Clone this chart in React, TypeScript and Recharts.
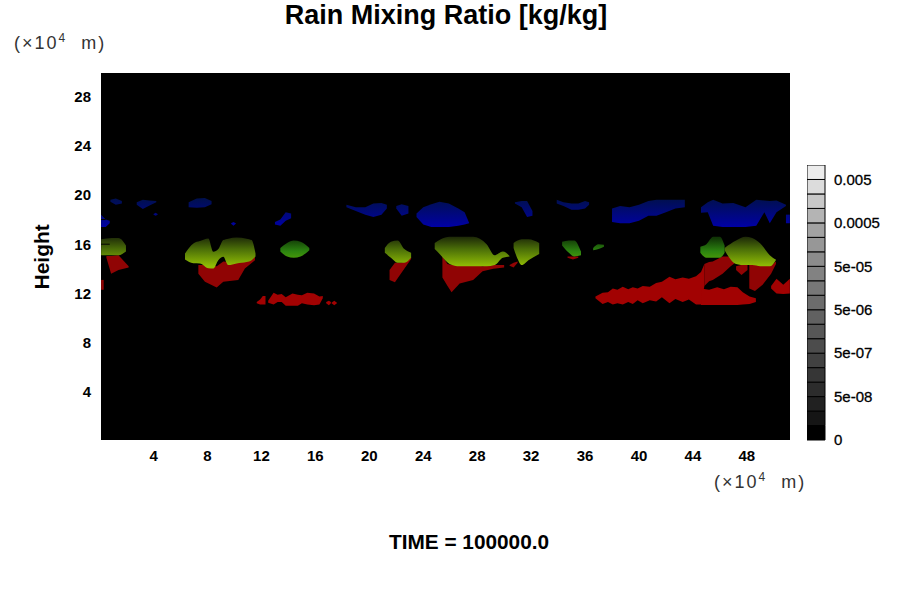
import { Area, Bar, BarChart, CartesianGrid, ComposedChart, ReferenceLine, XAxis, YAxis } from 'recharts'

type Column = [number, number, number]

const X_TICKS = [4, 8, 12, 16, 20, 24, 28, 32, 36, 40, 44, 48]
const Y_TICKS = [4, 8, 12, 16, 20, 24, 28]

// every blob is a list of [x, lowest height, highest height], in units of 10^4 m
const RAIN_DARK: Column[][] = [
  [[0.5, 14.9, 15.05], [0.85, 13.6, 15.05], [1.4, 13.9, 15.1], [2.15, 14.1, 14.2]],
  [[0.11, 12.3, 13.1], [0.3, 12.3, 13.1]],
  [[7.32, 13.6, 14.3], [7.81, 12.95, 14.3], [8.68, 12.49, 14.2], [9.17, 12.95, 14.6], [10.28, 13.09, 14.5], [10.77, 14.03, 14.6], [11.52, 14.7, 15.0]],
  [[21.5, 13.1, 13.9], [21.9, 12.9, 14.5], [22.4, 13.7, 14.5], [23.1, 14.8, 14.95]],
  [[25.42, 13.3, 15.0], [25.8, 12.6, 14.4], [26.1, 12.1, 14.3], [26.7, 12.8, 14.3], [27.7, 13.1, 14.3], [28.4, 13.8, 14.2], [29.2, 14.0, 14.3], [30.0, 14.1, 14.3]],
  [[30.4, 14.25, 14.3], [30.7, 14.1, 14.5], [31.0, 14.5, 14.6]],
  [[34.7, 14.9, 15.0], [35.1, 14.75, 15.0], [35.5, 14.9, 15.0]],
  [[44.85, 12.6, 14.4], [45.2, 13.0, 14.55], [45.47, 13.1, 14.6], [46.2, 13.6, 15.0], [46.8, 14.2, 15.0], [47.07, 14.44, 14.7]],
  [[47.2, 13.9, 14.2], [47.6, 13.5, 14.3], [48.05, 13.9, 14.3]],
  [[48.18, 12.4, 14.3], [48.6, 12.2, 14.3], [49.17, 12.7, 14.3], [49.8, 13.6, 14.3], [50.16, 14.4, 14.6]],
]

const RAIN_BRIGHT: Column[][] = [
  [[11.65, 11.2, 11.3], [11.9, 11.1, 11.5], [12.1, 11.1, 11.8], [12.3, 11.1, 11.8]],
  [[12.5, 11.25, 11.4], [12.9, 11.1, 12.05], [13.2, 11.3, 11.9], [13.5, 11.3, 11.95], [13.8, 11.0, 11.7], [14.3, 11.0, 12.0], [14.7, 11.0, 11.9], [15.0, 11.2, 11.85], [15.4, 11.1, 12.05], [15.9, 11.05, 12.0], [16.3, 11.1, 11.75], [16.55, 11.6, 11.8]],
  [[16.8, 11.2, 11.3], [17.0, 11.05, 11.4], [17.15, 11.2, 11.3]],
  [[17.2, 11.2, 11.25], [17.4, 11.05, 11.4], [17.6, 11.2, 11.25]],
  [[36.77, 11.6, 11.75], [37.3, 11.15, 12.05], [37.7, 11.3, 12.1], [38.06, 11.1, 12.4], [38.4, 11.2, 12.3], [38.8, 11.1, 12.55], [39.2, 11.3, 12.35], [39.54, 11.15, 12.5], [39.9, 11.45, 12.4], [40.28, 11.2, 12.6], [40.8, 11.45, 12.55], [41.27, 11.35, 12.85], [41.7, 11.7, 12.95], [42.26, 11.2, 13.35], [42.7, 11.55, 13.15], [43.24, 11.3, 13.3], [43.7, 11.5, 13.2], [44.23, 11.1, 13.4], [44.6, 11.1, 13.75], [44.85, 12.6, 14.4]],
  [[44.6, 11.06, 12.4], [45.2, 11.06, 12.3], [45.8, 11.06, 12.5], [46.3, 11.06, 12.35], [46.8, 11.06, 12.55], [47.3, 11.06, 12.5], [47.7, 11.1, 12.1], [48.2, 11.15, 11.75], [48.67, 11.3, 11.6]],
  [[49.8, 12.4, 12.6], [50.2, 12.0, 13.2], [50.7, 11.95, 12.7], [51.19, 12.0, 13.2]],
]

const CLOUD_YELLOW: Column[][] = [
  [[0.11, 15.1, 16.4], [0.9, 15.1, 16.5], [1.4, 15.1, 16.5], [1.95, 15.4, 15.9]],
  [[6.33, 14.75, 15.25], [6.95, 14.45, 16.06], [7.44, 14.44, 16.25], [8.06, 14.05, 16.46], [8.43, 14.03, 15.38], [8.8, 14.7, 15.6], [9.17, 14.98, 16.33], [9.54, 14.3, 16.45], [10.16, 14.44, 16.55], [10.9, 14.55, 16.45], [11.27, 14.7, 16.33], [11.56, 15.0, 15.25]],
  [[21.15, 15.3, 15.7], [21.6, 14.9, 16.2], [22.1, 14.5, 16.3], [22.6, 14.5, 15.6], [23.1, 14.9, 15.3]],
  [[24.85, 15.6, 16.1], [25.3, 15.1, 16.4], [25.95, 14.4, 16.6], [26.7, 14.2, 16.6], [27.7, 14.2, 16.6], [28.7, 14.2, 16.0], [29.3, 14.3, 15.1], [29.9, 14.9, 15.4], [30.4, 15.0, 15.05]],
  [[30.7, 15.7, 16.1], [31.0, 14.8, 16.3], [31.3, 14.3, 16.4], [31.8, 14.7, 16.4], [32.6, 15.2, 16.1]],
  [[46.35, 15.5, 15.7], [47.2, 14.4, 16.3], [47.9, 14.3, 16.6], [48.4, 14.3, 16.5], [49.0, 14.2, 16.05], [49.7, 14.2, 15.1], [50.15, 14.7, 14.75]],
]

const CLOUD_GREEN: Column[][] = [
  [[13.4, 15.4, 15.7], [13.9, 15.0, 16.1], [14.4, 14.9, 16.3], [14.9, 15.0, 16.2], [15.55, 15.5, 15.7]],
  [[34.3, 15.9, 16.2], [34.8, 15.3, 16.3], [35.2, 15.0, 16.3], [35.7, 15.1, 15.4]],
  [[36.6, 15.5, 15.7], [37.0, 15.6, 16.0], [37.4, 15.8, 15.95]],
  [[44.55, 15.3, 15.8], [45.0, 14.9, 16.0], [45.5, 14.9, 16.6], [46.0, 14.9, 16.6], [46.35, 15.3, 15.9]],
]

const ICE_BLUE: Column[][] = [
  [[0.8, 19.45, 19.6], [1.2, 19.2, 19.7], [1.65, 19.3, 19.5]],
  [[2.75, 19.2, 19.4], [3.2, 18.85, 19.6], [3.7, 19.15, 19.55], [4.2, 19.4, 19.5]],
  [[6.6, 19.0, 19.4], [7.2, 18.95, 19.7], [7.8, 19.0, 19.75], [8.3, 19.25, 19.5]],
  [[4.0, 18.4, 18.45], [4.15, 18.3, 18.55], [4.3, 18.4, 18.45]],
  [[0.11, 17.4, 18.4], [0.45, 17.4, 18.0], [0.75, 17.7, 17.9]],
  [[9.75, 17.65, 17.7], [9.92, 17.5, 17.8], [10.1, 17.65, 17.7]],
  [[13.0, 17.6, 17.8], [13.4, 17.5, 18.0], [13.8, 17.9, 18.6], [14.2, 18.1, 18.5]],
  [[18.3, 19.0, 19.2], [19.0, 18.7, 19.0], [19.7, 18.4, 19.0], [20.3, 18.2, 19.3], [20.9, 18.4, 19.35], [21.3, 18.9, 19.2]],
  [[22.0, 18.9, 19.1], [22.4, 18.3, 19.25], [22.9, 18.5, 19.1]],
  [[23.5, 18.2, 18.5], [24.0, 17.6, 19.0], [24.6, 17.4, 19.25], [25.2, 17.4, 19.45], [25.9, 17.4, 19.3], [26.6, 17.5, 18.9], [27.07, 17.6, 18.6], [27.4, 17.7, 17.75]],
  [[30.8, 19.3, 19.4], [31.3, 19.0, 19.5], [31.7, 18.2, 19.5], [32.1, 18.3, 18.7]],
  [[33.9, 19.3, 19.6], [34.4, 19.1, 19.4], [35.0, 18.8, 19.3], [35.5, 18.8, 19.3], [36.0, 18.9, 19.5], [36.3, 19.2, 19.4]],
  [[38.0, 17.8, 18.9], [38.6, 17.7, 19.1], [39.3, 17.7, 19.0], [40.0, 17.9, 19.2], [40.7, 18.3, 19.5], [41.3, 18.3, 19.6], [42.0, 18.6, 19.6], [42.7, 18.9, 19.6], [43.4, 19.0, 19.6]],
  [[44.6, 18.55, 19.0], [45.1, 18.6, 19.4], [45.5, 17.5, 19.6], [46.2, 17.4, 19.3], [47.0, 17.4, 19.35], [47.9, 17.4, 19.0], [48.7, 17.5, 19.6], [49.3, 18.6, 19.55], [49.7, 17.7, 19.5], [50.2, 18.6, 19.55], [50.9, 19.1, 19.2]],
  [[50.9, 17.7, 18.4], [51.19, 17.7, 18.4]],
]

const BAR_COLORS = [
  '#000000', '#151515', '#212121', '#2c2c2c', '#363636', '#414141', '#4c4c4c', '#575757', '#616161', '#6c6c6c',
  '#777777', '#828282', '#8c8c8c', '#979797', '#a2a2a2', '#b4b4b4', '#c8c8c8', '#dcdcdc', '#ececec',
]
const BAR_TICKS = [0, 3, 6, 9, 12, 15, 18]
const BAR_LABELS = ['0', '5e-08', '5e-07', '5e-06', '5e-05', '0.0005', '0.005']

const FONT = '"Liberation Sans", Arial, sans-serif'
const barRow = [Object.fromEntries(BAR_COLORS.map((_, i) => [`level${i}`, 1]))]
const toRows = (blob: Column[]) => blob.map(([x, low, high]) => ({ x, range: [low, high] }))

function blobs(list: Column[][], name: string, fill: string, curve: 'linear' | 'monotone') {
  return list.map((blob, i) => (
    <Area
      key={`${name}${i}`}
      data={toRows(blob)}
      dataKey="range"
      type={curve}
      stroke="none"
      fill={fill}
      fillOpacity={1}
      dot={false}
      activeDot={false}
      isAnimationActive={false}
    />
  ))
}

function Units({ left, top }: { left: number; top: number }) {
  return (
    <div style={{ position: 'absolute', left, top, font: `18px ${FONT}`, letterSpacing: 2, color: '#333', whiteSpace: 'nowrap' }}>
      (×10<sup style={{ fontSize: 12, lineHeight: 0 }}>4</sup>&nbsp;&nbsp;m)
    </div>
  )
}

export default function App() {
  const tick = { fontFamily: FONT, fontSize: 15, fontWeight: 700, fill: '#000' }
  return (
    <div style={{ position: 'absolute', left: 0, top: 0, width: 900, height: 600, background: '#fff', overflow: 'hidden' }}>
      <div style={{ position: 'absolute', left: 0, width: 892, top: 0, textAlign: 'center', font: `700 27px ${FONT}`, color: '#000' }}>
        Rain Mixing Ratio [kg/kg]
      </div>
      <Units left={14} top={33} />
      <Units left={714} top={472} />
      <div style={{ position: 'absolute', left: 0, width: 938, top: 530, textAlign: 'center', font: `700 20.8px ${FONT}`, color: '#000' }}>
        TIME = 100000.0
      </div>

      <div style={{ position: 'absolute', left: 0, top: 0 }}>
        <ComposedChart width={900} height={600} margin={{ top: 73, right: 110, bottom: 130, left: 31 }}>
          <defs>
            <linearGradient id="cloudYellow" gradientUnits="userSpaceOnUse" x1="0" y1="236" x2="0" y2="266">
              <stop offset="0%" stopColor="#1a2408" />
              <stop offset="45%" stopColor="#4c7008" />
              <stop offset="100%" stopColor="#90bc04" />
            </linearGradient>
            <linearGradient id="cloudGreen" gradientUnits="userSpaceOnUse" x1="0" y1="238" x2="0" y2="260">
              <stop offset="0%" stopColor="#103406" />
              <stop offset="60%" stopColor="#2c8410" />
              <stop offset="100%" stopColor="#4c9c08" />
            </linearGradient>
            <linearGradient id="iceBlue" gradientUnits="userSpaceOnUse" x1="0" y1="198" x2="0" y2="228">
              <stop offset="0%" stopColor="#00104c" />
              <stop offset="100%" stopColor="#0000a8" />
            </linearGradient>
          </defs>
          <CartesianGrid horizontal={false} vertical={false} fill="#000" />
          <XAxis
            dataKey="x"
            type="number"
            domain={[0.1, 51.2]}
            ticks={X_TICKS}
            interval={0}
            allowDataOverflow
            axisLine={false}
            tickLine={false}
            tick={tick}
            tickMargin={4}
            height={30}
          />
          <YAxis
            type="number"
            domain={[0.1, 29.9]}
            ticks={Y_TICKS}
            interval={0}
            allowDataOverflow
            axisLine={false}
            tickLine={false}
            tick={tick}
            tickMargin={4}
            width={70}
            label={{ value: 'Height', angle: -90, position: 'insideLeft', dx: 6, dy: 33, style: { fontFamily: FONT, fontSize: 21, fontWeight: 700, fill: '#000' } }}
          />
          {blobs(RAIN_DARK, 'dark', '#900404', 'linear')}
          {blobs(RAIN_BRIGHT, 'bright', '#a20202', 'linear')}
          {blobs(ICE_BLUE, 'ice', 'url(#iceBlue)', 'linear')}
          {blobs(CLOUD_YELLOW, 'yellow', 'url(#cloudYellow)', 'monotone')}
          {blobs(CLOUD_GREEN, 'green', 'url(#cloudGreen)', 'monotone')}
          <ReferenceLine segment={[{ x: 0.1, y: 16 }, { x: 0.75, y: 16 }]} stroke="#000" />
          <ReferenceLine segment={[{ x: 0.1, y: 18 }, { x: 0.45, y: 18 }]} stroke="#000" />
        </ComposedChart>
      </div>

      <div style={{ position: 'absolute', left: 807, top: 165 }}>
        <BarChart width={90} height={295} data={barRow} margin={{ top: 0, right: 0, bottom: 20, left: 0 }} barCategoryGap={0}>
          <XAxis hide />
          <YAxis
            orientation="right"
            type="number"
            domain={[0, 19]}
            ticks={BAR_TICKS}
            interval={0}
            tickFormatter={(value: number) => BAR_LABELS[BAR_TICKS.indexOf(value)]}
            axisLine={false}
            tickLine={false}
            width={72}
            tickMargin={3}
            tick={{ fontFamily: FONT, fontSize: 15, fontWeight: 400, fill: '#000', stroke: '#000', strokeWidth: 0.3 }}
          />
          {BAR_COLORS.map((color, i) => (
            <Bar key={color} dataKey={`level${i}`} stackId="scale" fill={color} stroke="#000" strokeWidth={1} isAnimationActive={false} />
          ))}
        </BarChart>
      </div>
    </div>
  )
}
